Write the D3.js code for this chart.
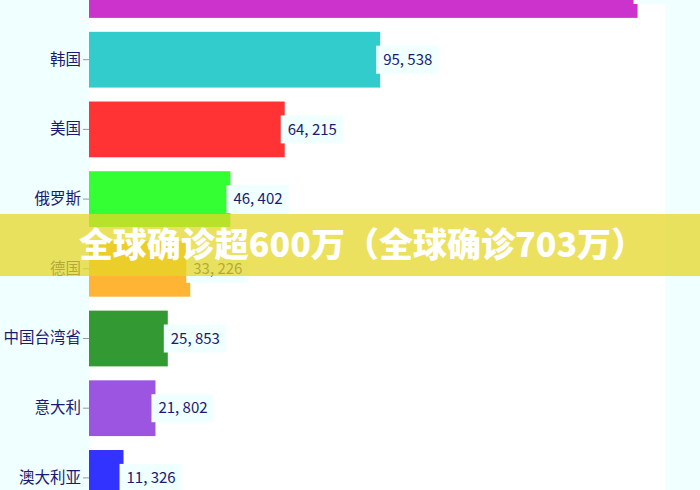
<!DOCTYPE html>
<html>
<head>
<meta charset="utf-8">
<script src="https://cdn.jsdelivr.net/npm/d3@7"></script>
<style>
  body { margin: 0; background: #f0ffff; }
  svg { display: block; font-family: "Noto Sans CJK SC", "Noto Sans", sans-serif; }
</style>
</head>
<body>
<svg width="700" height="490"></svg>
<script>
// data (top bar is cut off, value estimated)
var countries = ["日本", "韩国", "美国", "俄罗斯", "德国", "中国台湾省", "意大利", "澳大利亚"];
var values = [180000, 95538, 64215, 46402, 33226, 25853, 21802, 11326];
var colors = ["#cc33cc", "#33cccc", "#ff3333", "#33ff33", "#ffb533", "#339933", "#9b55e0", "#3333ff"];
var bannerText = "全球确诊超600万（全球确诊703万）";

var svgWidth = 700, svgHeight = 490;
var left = 89, right = 665;

var data = countries.map(function(c, i) { return {name: c, value: values[i], color: colors[i]}; });

var svg = d3.select("svg");

// white plot area
svg.append("rect")
    .attr("x", left).attr("y", 0)
    .attr("width", right - left).attr("height", svgHeight)
    .attr("fill", "#ffffff");

var x = d3.scaleLinear().domain([0, 189000]).range([left, right]);
var y = d3.scaleBand().domain(countries).range([-44.85, 512.75])
    .paddingInner(0.2).paddingOuter(0.1);

var fmt = d3.format(",");

svg.selectAll(".bar")
    .data(data)
    .enter()
    .append("rect")
    .attr("class", "bar")
    .attr("x", x(0))
    .attr("y", function(d) { return y(d.name); })
    .attr("width", function(d) { return x(d.value) - x(0); })
    .attr("height", y.bandwidth())
    .attr("fill", function(d) { return d.color; });

var labels = svg.selectAll(".lbl")
    .data(data)
    .enter()
    .append("g")
    .attr("class", "lbl")
    .attr("transform", function(d) { return "translate(" + x(d.value) + "," + (y(d.name) + y.bandwidth() / 2) + ")"; });

labels.append("rect")
    .attr("x", -4).attr("y", -14)
    .attr("height", 28)
    .attr("fill", "#f0ffff");

labels.append("text")
    .attr("x", 3)
    .attr("dy", "0.35em")
    .attr("font-size", 15)
    .attr("fill", "#1a1a6e")
    .text(function(d) { return fmt(d.value).replace(",", ", "); });

labels.each(function() {
    var g = d3.select(this);
    var w = g.select("text").node().getComputedTextLength();
    g.select("rect").attr("width", w + 13);
});

var yAxis = d3.axisLeft(y).tickSize(6).tickPadding(2);
var ga = svg.append("g")
    .attr("transform", "translate(" + left + ",0)")
    .call(yAxis);
ga.select(".domain").remove();
ga.selectAll(".tick line").attr("stroke", "#999");
ga.selectAll(".tick text")
    .attr("font-size", 15.5)
    .attr("fill", "#1a1a6e")
    .style("font-family", "'Noto Sans CJK SC', sans-serif");

// banner overlay
svg.append("rect")
    .attr("x", 0).attr("y", 214)
    .attr("width", svgWidth).attr("height", 62)
    .attr("fill", "rgba(230,215,40,0.75)");

svg.append("text")
    .attr("x", 362).attr("y", 245)
    .attr("dy", "0.35em")
    .attr("text-anchor", "middle")
    .attr("font-size", 34)
    .attr("font-weight", 900)
    .attr("fill", "#ffffff")
    .text(bannerText);
</script>
</body>
</html>
